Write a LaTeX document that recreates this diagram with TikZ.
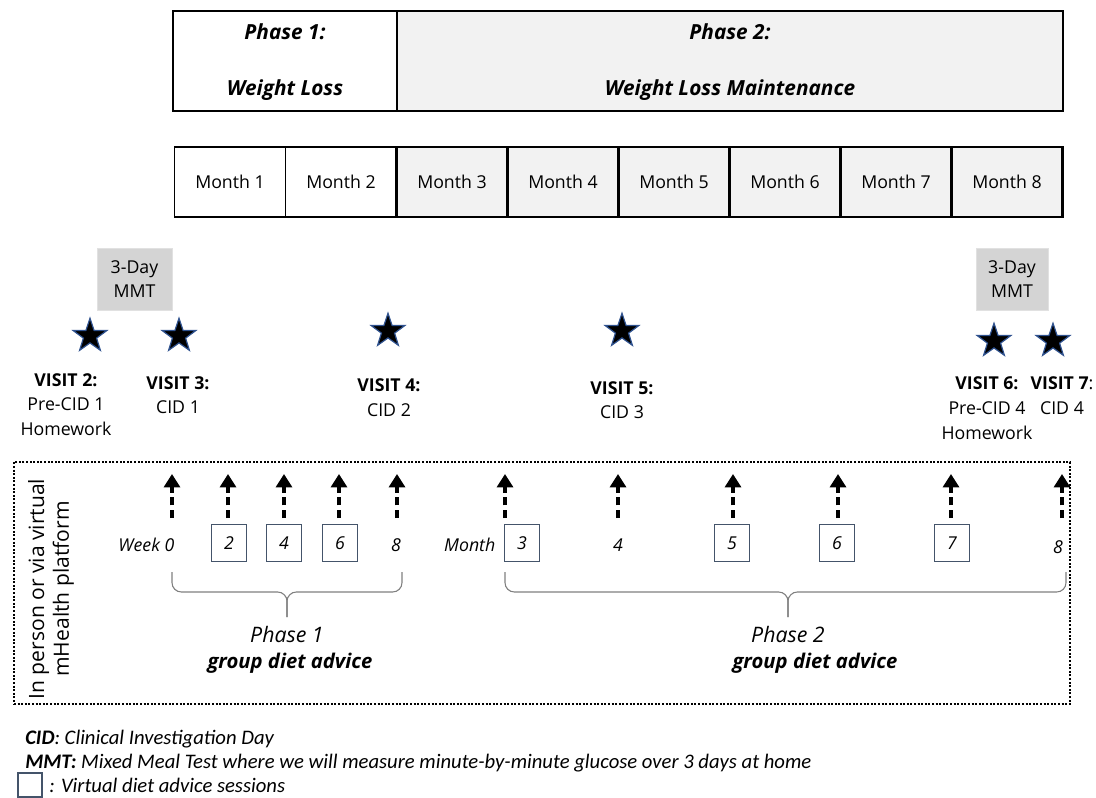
\documentclass[tikz,border=0pt]{standalone}
\usepackage{fontspec}
\setmainfont{Open Sans}
\newfontfamily\legendfont{Carlito}
\usetikzlibrary{arrows.meta,shapes.geometric}
\definecolor{phasegray}{HTML}{F2F2F2}
\definecolor{mmtgray}{HTML}{D4D4D4}
\definecolor{boxblue}{HTML}{44546A}
\definecolor{starblue}{HTML}{2F528F}
\definecolor{bracegray}{HTML}{7F7F7F}
\begin{document}
\begin{tikzpicture}[x=0.75pt,y=-0.75pt,
  phasebox/.style={draw, line width=2pt, minimum height=75pt, inner sep=0pt},
  phasetext/.style={font=\fontsize{15.6}{18}\selectfont\bfseries\itshape},
  monthbox/.style={draw, minimum width=83.25pt, minimum height=52.5pt, inner sep=0pt, font=\fontsize{13.3}{16}\selectfont},
  month1/.style={monthbox, line width=0.8pt, fill=white},
  month2/.style={monthbox, line width=2pt, fill=phasegray},
  mmtbox/.style={fill=mmtgray, draw=mmtgray!70, inner sep=0pt, minimum height=46.5pt, align=center, font=\fontsize{13.3}{18}\selectfont},
  visitstar/.style={star, star points=5, star point ratio=2.55, fill=black, draw=starblue, line width=0.9pt, minimum size=26.5pt, inner sep=0pt},
  visit/.style={align=center, font=\fontsize{13.3}{18.5}\selectfont},
  upar/.style={line width=2.3pt, dash pattern=on 6pt off 3.5pt, -{Triangle[width=12pt,length=10pt]}},
  sessbox/.style={draw=boxblue, line width=1.1pt, minimum width=26.25pt, minimum height=27.75pt, inner sep=0pt, font=\fontsize{13.3}{15}\selectfont\itshape},
  tick/.style={font=\fontsize{13.3}{15}\selectfont\itshape},
  bracestyle/.style={draw=bracegray, line width=0.8pt, rounded corners=7pt},
  phaselbl/.style={font=\fontsize{16}{18}\selectfont\itshape},
  grouplbl/.style={font=\fontsize{15.2}{18}\selectfont\bfseries\itshape},
  legend/.style={anchor=base west, inner sep=0pt, font=\legendfont\fontsize{15.5}{18}\selectfont\itshape}
]
\useasboundingbox (0,0) rectangle (1096,797);

% Phase header
\node[phasebox, fill=phasegray, minimum width=499.5pt] (ph2) at (730,61) {};
\node[phasebox, fill=white, minimum width=168pt] (ph1) at (285,61) {};
\node[phasetext] (ph1a) at (285,32) {Phase 1:};
\node[phasetext] (ph1b) at (285,90) {Weight Loss};
\node[phasetext] (ph2a) at (730,32) {Phase 2:};
\node[phasetext] (ph2b) at (730,90) {Weight Loss Maintenance};

% Months
\node[month1] (m1) at (230,182) {Month 1};
\node[month1] (m2) at (341,182) {Month 2};
\node[month2] (m3) at (452,182) {Month 3};
\node[month2] (m4) at (563,182) {Month 4};
\node[month2] (m5) at (674,182) {Month 5};
\node[month2] (m6) at (785,182) {Month 6};
\node[month2] (m7) at (896,182) {Month 7};
\node[month2] (m8) at (1007,182) {Month 8};

% MMT boxes
\node[mmtbox, minimum width=56.25pt] (mmt1) at (134.5,279) {3-Day\\MMT};
\node[mmtbox, minimum width=54pt] (mmt2) at (1012,279) {3-Day\\MMT};

% Stars
\node[visitstar] (s2) at (90,336) {};
\node[visitstar] (s3) at (179,336) {};
\node[visitstar] (s4) at (388,331) {};
\node[visitstar] (s5) at (622,331) {};
\node[visitstar] (s6) at (994,341) {};
\node[visitstar] (s7) at (1053,341) {};

% Visit labels
\node[visit] (v2) at (66,404.5) {\textbf{VISIT 2:}\\Pre-CID 1\\Homework};
\node[visit] (v3) at (178,395) {\textbf{VISIT 3:}\\CID 1};
\node[visit] (v4) at (389,397.5) {\textbf{VISIT 4:}\\CID 2};
\node[visit] (v5) at (622,400) {\textbf{VISIT 5:}\\CID 3};
\node[visit] (v6) at (987,408) {\textbf{VISIT 6:}\\Pre-CID 4\\Homework};
\node[visit] (v7) at (1062,395.5) {\textbf{VISIT 7}:\\CID 4};

% Dotted frame
\node[draw, line width=1.5pt, dash pattern=on 1.5pt off 1.2pt, minimum width=792pt, minimum height=181.5pt, inner sep=0pt] (frame) at (542,583) {};
\node[rotate=90, align=center, font=\fontsize{15.8}{18.5}\selectfont] (mode) at (51,589) {In person or via virtual\\mHealth platform};

% Arrows
\foreach \i/\x in {1/172,2/228,3/284,4/339,5/397,6/505,7/618,8/733,9/838,10/951,11/1062}{
  \coordinate (as\i) at (\x,518);
  \coordinate (ae\i) at (\x,474);
  \draw[upar] (as\i) -- (ae\i);
}

% Week / month row
\node[tick, anchor=east] (wk) at (179,545) {Week 0};
\node[sessbox] (w2) at (229,543) {2};
\node[sessbox] (w4) at (284,543) {4};
\node[sessbox] (w6) at (340,543) {6};
\node[tick] (w8) at (396,545) {8};
\node[tick, anchor=east] (mo) at (500,545) {Month};
\node[sessbox] (mo3) at (522,543) {3};
\node[tick] (mo4) at (618,545) {4};
\node[sessbox] (mo5) at (732,543) {5};
\node[sessbox] (mo6) at (837,543) {6};
\node[sessbox] (mo7) at (952,543) {7};
\node[tick] (mo8) at (1058,547) {8};

% Braces
\coordinate (b1l) at (172,572);
\coordinate (b1r) at (402,572);
\coordinate (b1m) at (287,592);
\coordinate (b1t) at (287,617);
\draw[bracestyle] (b1l) |- (b1m) -- (b1t);
\draw[bracestyle] (b1r) |- (b1m) -- (b1t);
\coordinate (b2l) at (505,572);
\coordinate (b2r) at (1066,572);
\coordinate (b2m) at (788,592);
\coordinate (b2t) at (788,617);
\draw[bracestyle] (b2l) |- (b2m) -- (b2t);
\draw[bracestyle] (b2r) |- (b2m) -- (b2t);

% Phase labels
\node[phaselbl] (pl1) at (287,634) {Phase 1};
\node[grouplbl] (gl1) at (290,663) {group diet advice};
\node[phaselbl] (pl2) at (788,634) {Phase 2};
\node[grouplbl] (gl2) at (815,663) {group diet advice};

% Legend
\node[legend] (lg1) at (25,744) {\textbf{CID}: Clinical Investigation Day};
\node[legend] (lg2) at (25,768) {\textbf{MMT:} Mixed Meal Test where we will measure minute-by-minute glucose over 3 days at home};
\node[draw=boxblue, line width=1.1pt, minimum width=18pt, minimum height=18pt, inner sep=0pt] (lgbox) at (30,785) {};
\node[legend] (lg3) at (49,792) {: Virtual diet advice sessions};
\end{tikzpicture}
\end{document}
